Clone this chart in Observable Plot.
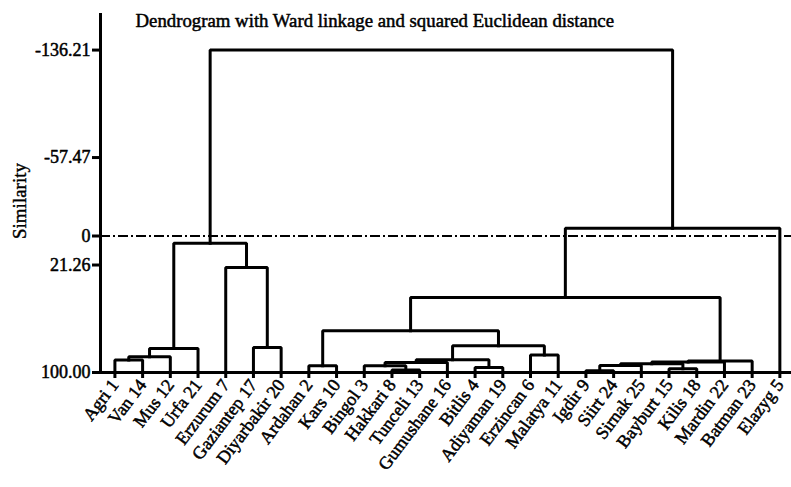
<!DOCTYPE html>
<html><head><meta charset="utf-8">
<script src="https://cdn.jsdelivr.net/npm/d3@7"></script>
<script src="https://cdn.jsdelivr.net/npm/@observablehq/plot@0.6"></script>
<style>body{margin:0;background:#fff;} svg{display:block}</style>
</head><body><div id="chart"></div>
<script>
// Leaves (left to right)
const leaves = ["Agri 1","Van 14","Mus 12","Urfa 21","Erzurum 7","Gaziantep 17","Diyarbakir 20",
  "Ardahan 2","Kars 10","Bingol 3","Hakkari 8","Tunceli 13","Gumushane 16","Bitlis 4","Adiyaman 19",
  "Erzincan 6","Malatya 11","Igdir 9","Siirt 24","Sirnak 25","Bayburt 15","Kilis 18","Mardin 22",
  "Batman 23","Elazyg 5"];
// Merges: node ids < 25 are leaves, id 25+k is merge k
const mergeLeft  = [10,17,20,13, 7, 9,26,31,30,32,34, 0,33,36,15,38, 5,37,29,43, 4,40,44,46];
const mergeRight = [11,18,21,14, 8,25,19,27,12,22,23, 1,28, 2,16, 3, 6,39,42,35,41,45,24,47];
const mergeSimilarity = [98.2,98.8,97.3,96.3,95.1,95.0,94.9,93.6,92.7,92.3,91.6,90.9,90.6,88.5,
  87.2,82.4,81.7,80.4,69.4,45.0,23.0,5.4,-5.6,-136.21];
const leafSimilarity = 100;
const yTicks = [-136.21,-57.47,0,21.26,100];
const yTickLabels = ["-136.21","-57.47","0","21.26","100.00"];
const cutLevel = 0;
const title = "Dendrogram with Ward linkage and squared Euclidean distance";
const yLabel = "Similarity";

const nLeaves = leaves.length;
const pos = n => n < nLeaves ? n : (pos(mergeLeft[n-nLeaves]) + pos(mergeRight[n-nLeaves])) / 2;
const hgt = n => n < nLeaves ? leafSimilarity : mergeSimilarity[n-nLeaves];
const pts = [];
mergeSimilarity.forEach((s, k) => {
  const a = mergeLeft[k], b = mergeRight[k];
  pts.push({g:k, x:pos(a), y:hgt(a)}, {g:k, x:pos(a), y:s}, {g:k, x:pos(b), y:s}, {g:k, x:pos(b), y:hgt(b)});
});
const xDomain = [-0.52, nLeaves - 1 + 0.42];
const textHeavy = {textStroke: "#000", textStrokeWidth: 0.5};

const chart = Plot.plot({
  width: 791, height: 487,
  marginLeft: 100, marginRight: 0, marginTop: 13, marginBottom: 115,
  style: {fontFamily: "'Liberation Serif','Times New Roman',serif", fontSize: "18px", color: "#000", background: "#fff", overflow: "visible"},
  x: {type: "linear", domain: xDomain},
  y: {domain: [leafSimilarity, -163]},
  marks: [
    Plot.ruleY([cutLevel], {stroke: "#000", strokeWidth: 2, strokeDasharray: "10,3,2,3"}),
    Plot.line(pts, {x: "x", y: "y", z: "g", stroke: "#000", strokeWidth: 3, strokeLinejoin: "miter", strokeLinecap: "square"}),
    Plot.ruleX([xDomain[0]], {stroke: "#000", strokeWidth: 3}),
    Plot.ruleY([leafSimilarity], {stroke: "#000", strokeWidth: 3}),
    Plot.axisY({ticks: yTicks, tickFormat: d => yTickLabels[yTicks.indexOf(d)], tickSize: 8, tickPadding: 2,
      strokeWidth: 3, fontSize: 18, label: null, ...textHeavy}),
    Plot.axisX({ticks: leaves.map((d, i) => i), tickFormat: i => leaves[i], tickSize: 6, tickPadding: 3, tickRotate: -53,
      strokeWidth: 3, fontSize: 18, label: null, ...textHeavy}),
    Plot.text([title], {frameAnchor: "top-left", lineAnchor: "middle", dx: 35, dy: 7, textAnchor: "start", fontSize: 18.8,
      stroke: "#000", strokeWidth: 0.5, fill: "#000"}),
    Plot.text([yLabel], {frameAnchor: "left", textAnchor: "middle", lineAnchor: "middle", rotate: -90, dx: -81, dy: 8,
      fontSize: 19, stroke: "#000", strokeWidth: 0.4, fill: "#000"})
  ]
});
document.getElementById("chart").appendChild(chart);
</script></body></html>
